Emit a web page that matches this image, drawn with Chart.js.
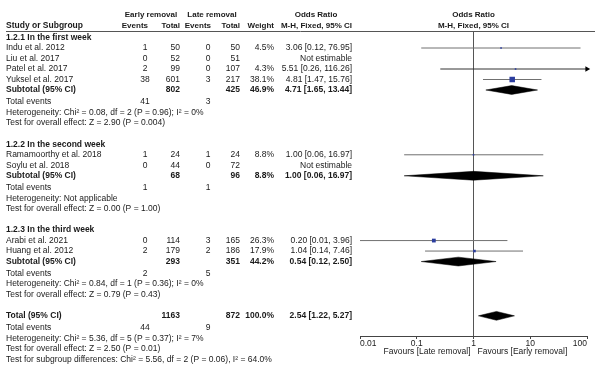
<!DOCTYPE html>
<html>
<head>
<meta charset="utf-8">
<script src="https://cdn.jsdelivr.net/npm/chart.js@4.4.0/dist/chart.umd.min.js"></script>
<style>
  body { margin: 0; background: #fff; }
</style>
</head>
<body>
<div style="width:611px;height:386px"><canvas id="forest" width="611" height="386"></canvas></div>
<script>
// ---- data ----
const groups = ["1.2.1 In the first week", "1.2.2 In the second week", "1.2.3 In the third week"];

const studies     = ["Indu et al. 2012", "Liu et al. 2017", "Patel et al. 2017", "Yuksel et al. 2017",
                     "Ramamoorthy et al. 2018", "Soylu et al. 2018", "Arabi et al. 2021", "Huang et al. 2012"];
const studyGroup  = [0, 0, 0, 0, 1, 1, 2, 2];
const earlyEvents = [1, 0, 2, 38, 1, 0, 0, 2];
const earlyTotal  = [50, 52, 99, 601, 24, 44, 114, 179];
const lateEvents  = [0, 0, 0, 3, 1, 0, 3, 2];
const lateTotal   = [50, 51, 107, 217, 24, 72, 165, 186];
const weights     = [4.5, null, 4.3, 38.1, 8.8, null, 26.3, 17.9];
const orEst       = [3.06, null, 5.51, 4.81, 1.00, null, 0.20, 1.04];
const orLow       = [0.12, null, 0.26, 1.47, 0.06, null, 0.01, 0.14];
const orHigh      = [76.95, null, 116.26, 15.76, 16.97, null, 3.96, 7.46];

const subEarlyTotal  = [802, 68, 293];
const subLateTotal   = [425, 96, 351];
const subEarlyEvents = [41, 1, 2];
const subLateEvents  = [3, 1, 5];
const subWeight      = [46.9, 8.8, 44.2];
const subEst         = [4.71, 1.00, 0.54];
const subLow         = [1.65, 0.06, 0.12];
const subHigh        = [13.44, 16.97, 2.50];
const subHet  = ["Heterogeneity: Chi² = 0.08, df = 2 (P = 0.96); I² = 0%",
                 "Heterogeneity: Not applicable",
                 "Heterogeneity: Chi² = 0.84, df = 1 (P = 0.36); I² = 0%"];
const subTest = ["Test for overall effect: Z = 2.90 (P = 0.004)",
                 "Test for overall effect: Z = 0.00 (P = 1.00)",
                 "Test for overall effect: Z = 0.79 (P = 0.43)"];

const totEarlyTotal = 1163, totLateTotal = 872, totEarlyEvents = 44, totLateEvents = 9;
const totWeight = 100.0, totEst = 2.54, totLow = 1.22, totHigh = 5.27;
const totHet  = "Heterogeneity: Chi² = 5.36, df = 5 (P = 0.37); I² = 7%";
const totTest = "Test for overall effect: Z = 2.50 (P = 0.01)";
const subgroupTest = "Test for subgroup differences: Chi² = 5.56, df = 2 (P = 0.06), I² = 64.0%";

const xTicks = [0.01, 0.1, 1, 10, 100];
const xMin = xTicks[0], xMax = xTicks[xTicks.length - 1];

// ---- rows (y in row units) ----
function orText(e, l, h) {
  if (e == null) return "Not estimable";
  return e.toFixed(2) + " [" + l.toFixed(2) + ", " + h.toFixed(2) + "]";
}

const rows = [];
const studyY = [], subY = [];
let pos = 0.62;
groups.forEach((g, gi) => {
  rows.push({y: pos, label: g, bold: true}); pos += 1;
  studies.forEach((s, i) => {
    if (studyGroup[i] !== gi) return;
    studyY[i] = pos;
    rows.push({y: pos, label: s, eEv: earlyEvents[i], eTot: earlyTotal[i], lEv: lateEvents[i], lTot: lateTotal[i],
               wt: weights[i], or: orText(orEst[i], orLow[i], orHigh[i])});
    pos += 1;
  });
  subY[gi] = pos;
  rows.push({y: pos, label: "Subtotal (95% CI)", bold: true, eTot: subEarlyTotal[gi], lTot: subLateTotal[gi],
             wt: subWeight[gi], or: orText(subEst[gi], subLow[gi], subHigh[gi])});
  pos += 1.15;
  rows.push({y: pos, label: "Total events", eEv: subEarlyEvents[gi], lEv: subLateEvents[gi]}); pos += 1;
  rows.push({y: pos, label: subHet[gi]}); pos += 1;
  rows.push({y: pos, label: subTest[gi]}); pos += 2.02;
});
const totY = pos;
rows.push({y: pos, label: "Total (95% CI)", bold: true, eTot: totEarlyTotal, lTot: totLateTotal,
           wt: totWeight, or: orText(totEst, totLow, totHigh)});
pos += 1.15;
rows.push({y: pos, label: "Total events", eEv: totEarlyEvents, lEv: totLateEvents}); pos += 1;
rows.push({y: pos, label: totHet}); pos += 1;
rows.push({y: pos, label: totTest}); pos += 1;
rows.push({y: pos, label: subgroupTest});

// ---- datasets ----
const datasets = [];

// weight squares (first so they sit on top)
const sqData = [], sqRad = [];
studies.forEach((s, i) => {
  if (orEst[i] == null) return;
  sqData.push({x: orEst[i], y: studyY[i]});
  const side = Math.max(1.6, 5.5 * weights[i] / 38.1);
  sqRad.push(side / Math.SQRT2);
});
datasets.push({
  data: sqData, pointStyle: 'rect', pointRadius: sqRad, pointHoverRadius: sqRad,
  backgroundColor: '#2b3d9e', borderWidth: 0, clip: false
});

// confidence intervals
studies.forEach((s, i) => {
  if (orEst[i] == null) return;
  const cut = orHigh[i] > xMax;
  datasets.push({
    data: [{x: Math.max(orLow[i], xMin), y: studyY[i]}, {x: Math.min(orHigh[i], xMax), y: studyY[i]}],
    showLine: true, borderColor: cut ? '#333' : '#707070', borderWidth: 1,
    pointRadius: [0, cut ? 3.2 : 0], pointStyle: 'triangle', rotation: 90,
    pointBackgroundColor: '#000', pointBorderWidth: 0, clip: false
  });
});

// pooled diamonds
function diamond(e, l, h, y) {
  const hh = 0.42;
  return {
    data: [{x: l, y: y}, {x: e, y: y - hh}, {x: h, y: y}, {x: e, y: y + hh}, {x: l, y: y}],
    showLine: true, fill: 'shape', backgroundColor: '#000', borderColor: '#000', borderWidth: 0.5,
    pointRadius: 0, tension: 0, clip: false
  };
}
subEst.forEach((e, gi) => datasets.push(diamond(e, subLow[gi], subHigh[gi], subY[gi])));
datasets.push(diamond(totEst, totLow, totHigh, totY));

// ---- table text ----
const COL = {study: 6, eEv: 145, eTot: 180, lEv: 208, lTot: 240, wt: 274, or: 352};
const FONT = '"Liberation Sans", Arial, sans-serif';

const tablePlugin = {
  id: 'table',
  afterDraw(chart) {
    const ctx = chart.ctx, ys = chart.scales.y, xs = chart.scales.x;
    ctx.save();
    ctx.fillStyle = '#1a1a1a';
    ctx.textBaseline = 'middle';
    const txt = (s, x, y, align, bold, size) => {
      ctx.font = (bold ? 'bold ' : '') + (size || 8.5) + 'px ' + FONT;
      ctx.textAlign = align;
      ctx.fillText(s, x, y);
    };
    // headers
    const h1 = ys.getPixelForValue(-1.5), h2 = ys.getPixelForValue(-0.48);
    const x1 = xs.getPixelForValue(1);
    txt("Early removal", 151, h1, 'center', true, 8);
    txt("Late removal", 212, h1, 'center', true, 8);
    txt("Odds Ratio", 316, h1, 'center', true, 8);
    txt("Odds Ratio", x1, h1, 'center', true, 8);
    txt("Study or Subgroup", COL.study, h2, 'left', true, 8.5);
    txt("Events", 148, h2, 'right', true, 8);
    txt("Total", COL.eTot, h2, 'right', true, 8);
    txt("Events", 211, h2, 'right', true, 8);
    txt("Total", COL.lTot, h2, 'right', true, 8);
    txt("Weight", COL.wt, h2, 'right', true, 8);
    txt("M-H, Fixed, 95% CI", COL.or, h2, 'right', true, 8);
    txt("M-H, Fixed, 95% CI", x1, h2, 'center', true, 8);
    ctx.strokeStyle = '#555';
    ctx.lineWidth = 1;
    ctx.beginPath();
    ctx.moveTo(COL.study, chart.chartArea.top + 0.5);
    ctx.lineTo(595, chart.chartArea.top + 0.5);
    ctx.stroke();

    rows.forEach(r => {
      const y = ys.getPixelForValue(r.y);
      txt(r.label, COL.study, y, 'left', r.bold);
      if (r.eEv != null) txt(String(r.eEv), COL.eEv, y, 'center', r.bold);
      if (r.eTot != null) txt(String(r.eTot), COL.eTot, y, 'right', r.bold);
      if (r.lEv != null) txt(String(r.lEv), COL.lEv, y, 'center', r.bold);
      if (r.lTot != null) txt(String(r.lTot), COL.lTot, y, 'right', r.bold);
      if (r.wt != null) txt(r.wt.toFixed(1) + '%', COL.wt, y, 'right', r.bold);
      if (r.or != null) txt(r.or, COL.or, y, 'right', r.bold);
    });

    // favours labels
    const fy = xs.top + 16;
    txt("Favours [Late removal]", x1 - 3, fy, 'right', false);
    txt("Favours [Early removal]", x1 + 4, fy, 'left', false);
    ctx.restore();
  }
};

Chart.defaults.font.family = FONT;
Chart.defaults.font.size = 8.5;
Chart.defaults.color = '#1a1a1a';

new Chart("forest", {
  type: "scatter",
  data: { datasets: datasets },
  plugins: [tablePlugin],
  options: {
    responsive: false,
    animation: false,
    layout: { padding: { left: 360, right: 24, top: 31, bottom: 20 } },
    plugins: { legend: { display: false }, tooltip: { enabled: false } },
    scales: {
      x: {
        type: 'logarithmic', min: xMin, max: xMax,
        afterBuildTicks: s => { s.ticks = xTicks.map(v => ({value: v})); },
        afterFit: s => { s.height = 30; },
        ticks: { callback: v => String(v), align: 'inner', padding: 0, maxRotation: 0, autoSkip: false },
        grid: {
          color: c => (c.tick && c.tick.value === 1 ? '#555' : 'rgba(0,0,0,0)'),
          tickColor: '#444', tickLength: 3, lineWidth: 1
        },
        border: { color: '#444' }
      },
      y: { display: false, reverse: true, min: 0, max: 29.05 }
    }
  }
});
</script>
</body>
</html>
